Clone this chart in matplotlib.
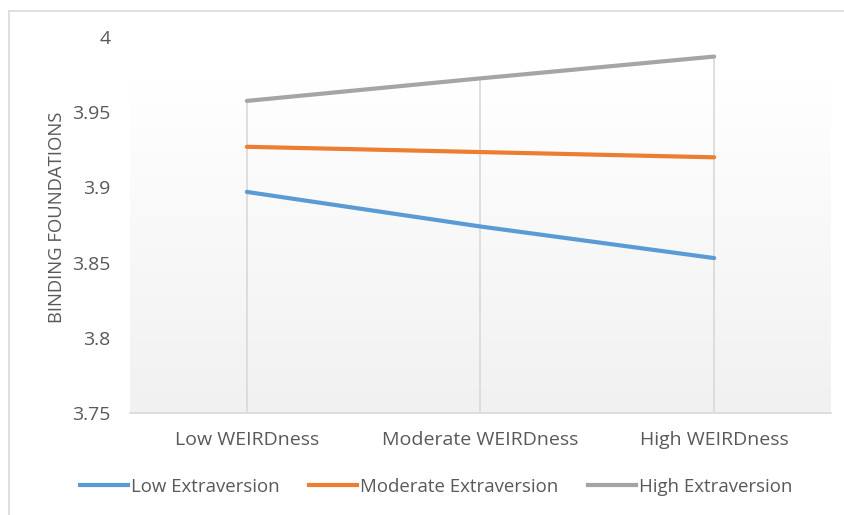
import numpy as np
import matplotlib.pyplot as plt
from matplotlib.lines import Line2D

plt.rcParams['font.family'] = ['Open Sans', 'DejaVu Sans']

# ===== data =====
categories = ["Low WEIRDness", "Moderate WEIRDness", "High WEIRDness"]
low_extra = [3.897, 3.874, 3.853]
mod_extra = [3.927, 3.9235, 3.920]
high_extra = [3.9575, 3.9725, 3.987]
series_names = ["Low Extraversion", "Moderate Extraversion", "High Extraversion"]
yticks = [3.75, 3.8, 3.85, 3.9, 3.95, 4.0]
ytick_labels = ["3.75", "3.8", "3.85", "3.9", "3.95", "4"]

colors = ["#5b9bd5", "#ed7d31", "#a5a5a5"]
txt = "#595959"

fig = plt.figure(figsize=(8.45, 5.15), dpi=100)
W, H = 845, 515
ax = fig.add_axes([130/W, 1-413/H, (831-130)/W, (413-37)/H])

x = np.arange(len(categories))
ax.set_xlim(-0.5, 2.5)
ax.set_ylim(3.75, 4.0)

# plot area fill: soft vertical gradient, white at top to light gray at bottom
grad = np.linspace(0, 1, 256).reshape(-1, 1)
top_c = np.array([1.0, 1.0, 1.0])
bot_c = np.array([0.945, 0.945, 0.945])
img = top_c * (1 - grad[..., None]) + bot_c * grad[..., None]
img = img[::-1]
ax.imshow(img, extent=(-0.5, 2.5, 3.75, 3.9707), aspect='auto',
          origin='lower', zorder=0)

# drop lines down to the axis
all_series = [low_extra, mod_extra, high_extra]
tops = np.max(np.array(all_series), axis=0)
ax.vlines(x, 3.75, tops, color="#d9d9d9", lw=1.2, zorder=1)

for vals, c in zip(all_series, colors):
    ax.plot(x, vals, color=c, lw=3, solid_capstyle='round', zorder=3)

for s in ["top", "right", "left"]:
    ax.spines[s].set_visible(False)
ax.spines["bottom"].set_color("#d9d9d9")
ax.spines["bottom"].set_linewidth(1.2)

ax.set_xticks(x)
ax.set_xticklabels(categories, fontsize=14, color=txt)
ax.set_yticks(yticks)
ax.set_yticklabels(ytick_labels, fontsize=14, color=txt)
ax.tick_params(axis='both', length=0)
ax.tick_params(axis='x', pad=13)
ax.tick_params(axis='y', pad=14)
ax.set_ylabel("BINDING FOUNDATIONS", fontsize=13.3, color=txt)
ax.yaxis.set_label_coords(-0.092, 0.521)

handles = [Line2D([0], [0], color=c, lw=3) for c in colors]
fig.legend(handles, series_names, loc='center', bbox_to_anchor=(436/W, 1-487/H),
           ncol=3, frameon=False, fontsize=13.4, handlelength=2.58,
           handletextpad=0.16, columnspacing=1.6, labelcolor=txt)

# chart border (top and left edges)
fig.add_artist(Line2D([9/W, 9/W], [0, 1-11/H], color="#d9d9d9", lw=1.2))
fig.add_artist(Line2D([9/W, 1], [1-11/H, 1-11/H], color="#d9d9d9", lw=1.2))

fig.savefig("out.png", dpi=100)
